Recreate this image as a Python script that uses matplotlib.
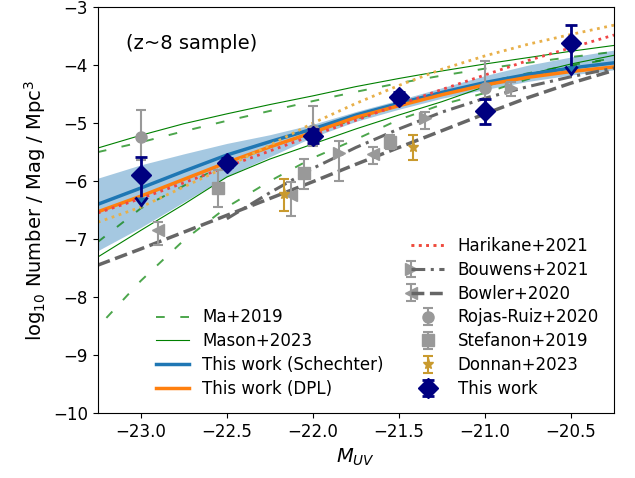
import matplotlib
matplotlib.use('Agg')
import matplotlib.pyplot as plt
from matplotlib.legend_handler import HandlerErrorbar

# magnitude grid used for the LF curves
m_grid = [-23.25, -23.0, -22.75, -22.5, -22.25, -22.0, -21.75, -21.5, -21.25, -21.0, -20.75, -20.5, -20.25]

# this work fits (log10 phi)
schechter = [-6.40, -6.12, -5.83, -5.55, -5.32, -5.10, -4.86, -4.66, -4.47, -4.30, -4.16, -4.05, -3.96]
schechter_hi = [-5.95, -5.72, -5.53, -5.35, -5.20, -5.02, -4.80, -4.60, -4.39, -4.18, -4.00, -3.86, -3.74]
schechter_lo = [-7.20, -6.80, -6.36, -5.92, -5.58, -5.24, -4.97, -4.76, -4.57, -4.42, -4.28, -4.17, -4.08]
dpl = [-6.53, -6.26, -5.97, -5.68, -5.41, -5.16, -4.90, -4.70, -4.51, -4.34, -4.21, -4.11, -4.03]

# literature curves
harikane_a = [-6.71, -6.45, -6.10, -5.75, -5.38, -5.00, -4.66, -4.35, -4.07, -3.84, -3.64, -3.47, -3.31]
harikane_b = [-6.55, -6.30, -6.03, -5.75, -5.48, -5.21, -4.95, -4.68, -4.42, -4.17, -3.92, -3.70, -3.48]
mason_hi = [-5.43, -5.21, -5.01, -4.84, -4.68, -4.53, -4.37, -4.23, -4.10, -3.98, -3.87, -3.76, -3.66]
mason_lo = [-7.31, -6.85, -6.40, -5.93, -5.62, -5.36, -5.10, -4.86, -4.63, -4.37, -4.16, -3.98, -3.83]
ma_hi = [-5.50, -5.33, -5.14, -4.96, -4.79, -4.62, -4.46, -4.31, -4.18, -4.06, -3.96, -3.86, -3.77]
ma_mid = [-7.05, -6.47, -6.08, -5.70, -5.41, -5.17, -4.93, -4.70, -4.49, -4.30, -4.14, -4.00, -3.88]
ma_lo_m = [-23.2, -23.0, -22.75, -22.5, -22.25, -22.0, -21.75, -21.5, -21.25, -21.0, -20.75, -20.5, -20.25]
ma_lo = [-8.36, -7.72, -7.02, -6.45, -6.00, -5.60, -5.28, -4.94, -4.68, -4.48, -4.24, -4.02, -3.88]
bowler_line = [-7.45, -7.17, -6.88, -6.59, -6.30, -6.01, -5.71, -5.42, -5.13, -4.84, -4.56, -4.31, -4.09]
bouwens_m = [-22.5, -22.25, -22.0, -21.75, -21.5, -21.25, -21.0, -20.75, -20.5, -20.25]
bouwens_line = [-6.65, -6.20, -5.78, -5.42, -5.10, -4.81, -4.57, -4.37, -4.20, -4.05]

# binned data points: M, log phi, upper err, lower err
this_m = [-23.0, -22.5, -22.0, -21.5, -21.0, -20.5]
this_phi = [-5.90, -5.68, -5.22, -4.55, -4.79, -3.61]
this_up = [0.31, 0.08, 0.12, 0.08, 0.20, 0.30]
this_lo = [0.37, 0.08, 0.12, 0.08, 0.23, 0.40]
this_lim = [True, False, False, False, False, True]

rojas_m = [-23.0, -22.0, -21.0]
rojas_phi = [-5.24, -5.12, -4.40]
rojas_up = [0.46, 0.41, 0.47]
rojas_lo = [0.40, 0.28, 0.45]

stef_m = [-22.55, -22.05, -21.55]
stef_phi = [-6.12, -5.86, -5.32]
stef_up = [0.31, 0.24, 0.12]
stef_lo = [0.33, 0.28, 0.12]

bouw_m = [-21.85, -21.35, -20.85]
bouw_phi = [-5.52, -4.92, -4.39]
bouw_up = [0.22, 0.12, 0.10]
bouw_lo = [0.48, 0.18, 0.14]

bowl_m = [-22.90, -22.13, -21.65]
bowl_phi = [-6.85, -6.24, -5.53]
bowl_up = [0.15, 0.22, 0.12]
bowl_lo = [0.25, 0.36, 0.18]

donn_m = [-22.17, -21.42]
donn_phi = [-6.22, -5.41]
donn_up = [0.26, 0.20]
donn_lo = [0.30, 0.23]


class LeftMarkerHandler(HandlerErrorbar):
    # marker at the left end of the handle, line continues to the right
    def get_xdata(self, legend, xdescent, ydescent, width, height, fontsize):
        return [-xdescent, -xdescent + width], [-xdescent]


fig = plt.figure(figsize=(6.35, 4.78), dpi=100)
ax = fig.add_axes([0.154, 0.136, 0.813, 0.849])

grey = '#999999'
line_grey = '#666666'

# curves
ma_h, = ax.plot(m_grid, ma_hi, color='green', alpha=0.7, lw=1.4, dashes=(4.5, 8))
ax.plot(m_grid, ma_mid, color='green', alpha=0.7, lw=1.4, dashes=(4.5, 8))
ax.plot(ma_lo_m, ma_lo, color='green', alpha=0.7, lw=1.4, dashes=(4.5, 8))
mason_h, = ax.plot(m_grid, mason_hi, color='green', lw=0.8)
ax.plot(m_grid, mason_lo, color='green', lw=0.8)

ax.fill_between(m_grid, schechter_lo, schechter_hi, color='C0', alpha=0.4, lw=0)
sch_h, = ax.plot(m_grid, schechter, color='C0', lw=2.5)
dpl_h, = ax.plot(m_grid, dpl, color='C1', lw=2.5)

har_a, = ax.plot(m_grid, harikane_a, color='#e8b04a', lw=2, ls=':')
har_b, = ax.plot(m_grid, harikane_b, color='#f04545', lw=2, ls=':')

bowl_l, = ax.plot(m_grid, bowler_line, color=line_grey, lw=2.5, ls='--')
bouw_l, = ax.plot(bouwens_m, bouwens_line, color=line_grey, lw=2.2, dashes=(4.5, 1.8, 1, 1.8))

# data points
eb_kw = dict(ls='none', capsize=3.5, elinewidth=1.5, capthick=1.5, ms=8)
rojas_eb = ax.errorbar(rojas_m, rojas_phi, yerr=[rojas_lo, rojas_up], marker='o', color=grey, zorder=5, **eb_kw)
stef_eb = ax.errorbar(stef_m, stef_phi, yerr=[stef_lo, stef_up], marker='s', color=grey, zorder=5, **eb_kw)
bouw_eb = ax.errorbar(bouw_m, bouw_phi, yerr=[bouw_lo, bouw_up], marker='>', color=grey, zorder=5, **eb_kw)
bowl_eb = ax.errorbar(bowl_m, bowl_phi, yerr=[bowl_lo, bowl_up], marker='<', color=grey, zorder=5, **eb_kw)
donn_eb = ax.errorbar(donn_m, donn_phi, yerr=[donn_lo, donn_up], marker='*', color='#c99a2e', zorder=5, **eb_kw)

# this work: normal bars, plus arrows for the limit points
lo_main = [0 if lim else lo for lo, lim in zip(this_lo, this_lim)]
this_eb = ax.errorbar(this_m, this_phi, yerr=[lo_main, this_up], marker='D', ms=10, color='navy',
                      ls='none', capsize=4, elinewidth=2, capthick=2, zorder=7)
lim_m = [m for m, lim in zip(this_m, this_lim) if lim]
lim_phi = [p for p, lim in zip(this_phi, this_lim) if lim]
lim_lo = [lo for lo, lim in zip(this_lo, this_lim) if lim]
ax.errorbar(lim_m, lim_phi, yerr=[lim_lo, [0] * len(lim_lo)], uplims=True, fmt='none',
            ecolor='navy', capsize=4, elinewidth=2, capthick=2, zorder=6)

ax.text(0.055, 0.91, '(z~8 sample)', transform=ax.transAxes, fontsize=14, va='center')

ax.set_xlim(-23.25, -20.25)
ax.set_ylim(-10, -3)
ax.set_xticks([-23.0, -22.5, -22.0, -21.5, -21.0, -20.5])
ax.tick_params(labelsize=12)
ax.set_xlabel(r'$M_{UV}$', fontsize=14)
ax.set_ylabel(r'log$_{10}$ Number / Mag / Mpc$^3$', fontsize=14)

# legends
leg1 = ax.legend([ma_h, mason_h, sch_h, dpl_h],
                 ['Ma+2019', 'Mason+2023', 'This work (Schechter)', 'This work (DPL)'],
                 loc='lower left', bbox_to_anchor=(0.083, 0), frameon=False, fontsize=12,
                 labelspacing=0.35)
ax.add_artist(leg1)
ax.legend([(har_a, har_b), (bouw_eb, bouw_l), (bowl_eb, bowl_l), rojas_eb, stef_eb, donn_eb, this_eb],
          ['Harikane+2021', 'Bouwens+2021', 'Bowler+2020', 'Rojas-Ruiz+2020', 'Stefanon+2019',
           'Donnan+2023', 'This work'],
          loc='lower right', frameon=False, fontsize=12, labelspacing=0.35,
          handler_map={bouw_eb: LeftMarkerHandler(), bowl_eb: LeftMarkerHandler()})

fig.savefig('out.png', dpi=100)
